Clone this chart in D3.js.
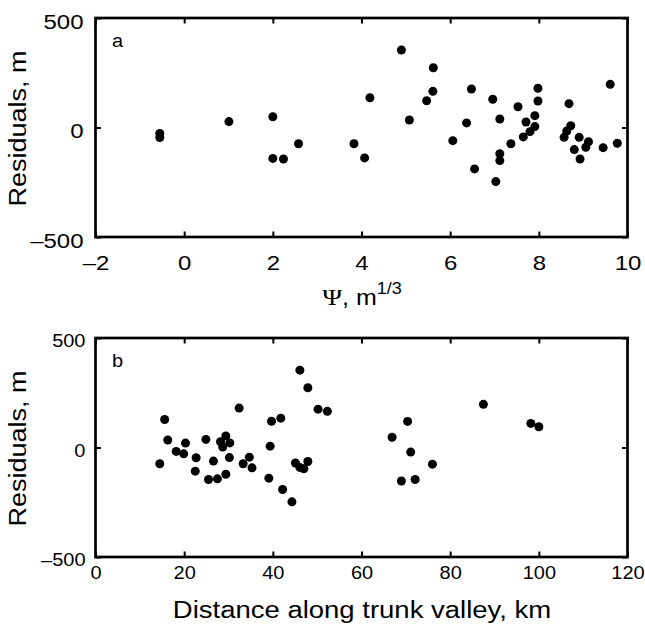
<!DOCTYPE html>
<html><head><meta charset="utf-8">
<script src="https://cdn.jsdelivr.net/npm/d3@7"></script>
<style>body{margin:0;background:#fff;} svg{display:block;}</style>
</head><body>
<svg id="c" width="645" height="627"></svg>
<script>
// Panel a: Psi (m^1/3) vs residuals (m)
const psiX = [-0.55,-0.55,1.01,2.0,2.0,2.24,2.58,3.83,4.07,4.19,
  4.90,5.62,5.61,5.47,5.08,6.06,6.48,6.37,6.55,6.96,
  7.12,7.12,7.12,7.03,7.37,7.53,7.71,7.65,7.80,7.91,
  7.91,7.98,7.98,8.68,8.72,8.63,8.57,8.91,8.80,8.93,
  9.06,9.12,9.45,9.61,9.77];
const psiRes = [-27,-46,27,49,-141,-144,-74,-74,-139,136,
  354,273,165,122,34,-60,176,21,-189,129,
  39,-120,-151,-247,-74,95,25,-43,-19,4,
  54,121,179,109,8,-16,-45,-45,-101,-144,
  -90,-65,-92,197,-72];
// Panel b: distance along trunk valley (km) vs residuals (m)
const distX = [14.5,15.6,16.3,18.2,19.9,20.3,22.7,22.5,24.9,25.5,
  26.6,27.5,28.2,28.7,29.4,30.3,29.4,30.2,32.4,33.3,
  34.7,35.3,39.4,39.7,41.8,39.1,42.2,44.3,46.1,47.9,
  50.2,52.3,45.1,46.1,47.0,47.9,66.9,70.4,71.1,69.0,
  72.1,76.0,87.5,98.2,100.0];
const distRes = [-74,128,34,-18,-29,20,-47,-108,37,-146,
  -62,-143,26,2,53,21,-122,-46,180,-74,
  -44,-93,6,120,134,-140,-192,-248,353,273,
  175,165,-71,-91,-97,-64,47,119,-21,-153,
  -146,-76,197,110,95];
const psiTicks = [-2,0,2,4,6,8,10];
const distTicks = [0,20,40,60,80,100,120];
const resTicks = [-500,0,500];

const svg = d3.select("#c");
const font = "'Liberation Sans', Arial, Helvetica, sans-serif";
const SY = 0.88; // glyph height squash seen in the reference
const fmt = d => (d < 0 ? "\u2013" + Math.abs(d) : String(d));

function label(parent, x, y, str, size, anchor, rot) {
  return parent.append("text")
    .attr("transform", `translate(${x},${y})${rot ? ` rotate(${rot})` : ""} scale(1,${SY})`)
    .attr("text-anchor", anchor).attr("font-family", font).attr("font-size", size)
    .attr("fill", "#000").text(str);
}

function panel(o) {
  const x = d3.scaleLinear().domain(o.xdom).range([95.5, 627.5]);
  const y = d3.scaleLinear().domain([-500, 500]).range([o.bottom, o.top]);
  const g = svg.append("g");
  g.selectAll("circle").data(o.xs).join("circle")
    .attr("cx", (d) => x(d)).attr("cy", (d, i) => y(o.ys[i]))
    .attr("r", 4.5).attr("fill", "#000");
  const tl = 5.5;
  const axB = d3.axisBottom(x).tickValues(o.xticks).tickSizeInner(-tl).tickSizeOuter(0).tickFormat(fmt);
  const axT = d3.axisTop(x).tickValues(o.xticks).tickSizeInner(-tl).tickSizeOuter(0).tickFormat("");
  const axL = d3.axisLeft(y).tickValues(resTicks).tickSizeInner(-tl).tickSizeOuter(0).tickFormat(fmt);
  const axR = d3.axisRight(y).tickValues(resTicks).tickSizeInner(-tl).tickSizeOuter(0).tickFormat("");
  const gb = g.append("g").attr("transform", `translate(0,${o.bottom})`).call(axB);
  const gt = g.append("g").attr("transform", `translate(0,${o.top})`).call(axT);
  const gl = g.append("g").attr("transform", `translate(95.5,0)`).call(axL);
  const gr = g.append("g").attr("transform", `translate(627.5,0)`).call(axR);
  [gb, gt, gl, gr].forEach(a => {
    a.select(".domain").remove();
    a.selectAll(".tick line").attr("stroke", "#000").attr("stroke-width", 2);
  });
  gb.selectAll(".tick text").attr("font-family", font).attr("font-size", o.fs).attr("fill", "#000")
    .attr("x", 0).attr("y", 0).attr("dy", 0)
    .attr("transform", `translate(0,${o.xlabY - o.bottom}) scale(1,${SY})`);
  gl.selectAll(".tick text").attr("font-family", font).attr("font-size", o.fs).attr("fill", "#000")
    .attr("x", 0).attr("y", 0).attr("dy", 0).attr("text-anchor", "end")
    .attr("transform", `translate(${o.ylabX - 95.5},${o.fs * 0.716 * SY / 2 + 2.5}) scale(1,${SY})`);
  g.append("rect").attr("x", 95.5).attr("y", o.top).attr("width", 532).attr("height", o.bottom - o.top)
    .attr("fill", "none").attr("stroke", "#000").attr("stroke-width", 2.7);
  label(g, 112, o.top + 29, o.letter, 20, "start");
  label(g, 25.5, (o.top + o.bottom) / 2 + 1, "Residuals, m", 27, "middle", -90);
  return g;
}

panel({xdom: [-2, 10], top: 18, bottom: 237, xs: psiX, ys: psiRes, xticks: psiTicks,
  fs: 24, xlabY: 270, ylabX: 83.5, letter: "a"});
panel({xdom: [0, 120], top: 338, bottom: 557, xs: distX, ys: distRes, xticks: distTicks,
  fs: 20, xlabY: 579, ylabX: 85.5, letter: "b"});

// x labels
const t1 = label(svg, 362, 305, "", 25, "middle");
t1.append("tspan").attr("font-family", "'Liberation Serif', 'DejaVu Serif', serif").attr("font-size", 27).text("\u03A8");
t1.append("tspan").text(", m");
t1.append("tspan").attr("font-size", 18).attr("dy", -13).text("1/3");

label(svg, 362, 618, "Distance along trunk valley, km", 27.5, "middle");
</script>
</body></html>
